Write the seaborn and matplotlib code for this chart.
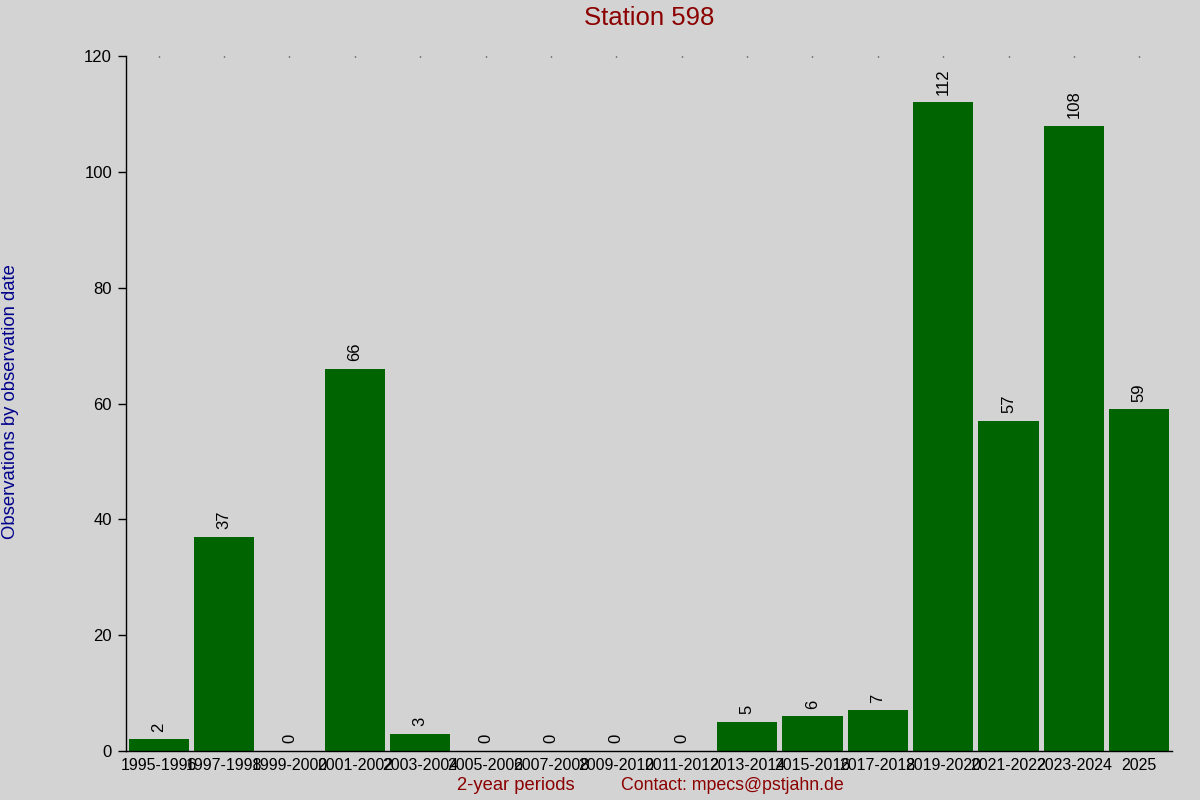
import matplotlib
matplotlib.use("Agg")
import matplotlib.pyplot as plt
import seaborn as sns
import pandas as pd

periods = ["1995-1996", "1997-1998", "1999-2000", "2001-2002", "2003-2004",
           "2005-2006", "2007-2008", "2009-2010", "2011-2012", "2013-2014",
           "2015-2016", "2017-2018", "2019-2020", "2021-2022", "2023-2024", "2025"]
counts = [2, 37, 0, 66, 3, 0, 0, 0, 0, 5, 6, 7, 112, 57, 108, 59]

title = "Station 598"
ylabel = "Observations by observation date"
xlabel = "2-year periods"
contact = "Contact: mpecs@pstjahn.de"

sns.set_theme(style="white")
plt.rcParams['font.family'] = ['Liberation Sans', 'DejaVu Sans']

bg = "#d3d3d3"
fig = plt.figure(figsize=(12, 8), dpi=100, facecolor=bg)
ax = fig.add_axes([126/1200, 49/800, (1172-126)/1200, (751-56)/800])
ax.set_facecolor(bg)

df = pd.DataFrame({"period": periods, "count": counts})
sns.barplot(data=df, x="period", y="count", color="#006400", saturation=1,
            width=0.92, ax=ax, edgecolor="none")

ax.set_xlim(-0.5, len(periods) - 0.5)
ax.set_ylim(0, 120)
ax.set_yticks(range(0, 121, 20))

for i, v in enumerate(counts):
    ax.annotate(str(v), (i, v), xytext=(0, 5.5), textcoords="offset points",
                rotation=90, ha="center", va="bottom", fontsize=12, color="black")

for s in ["top", "right"]:
    ax.spines[s].set_visible(False)
for s in ["left", "bottom"]:
    ax.spines[s].set_color("black")
    ax.spines[s].set_linewidth(1)

ax.tick_params(axis="y", left=True, length=6, width=1, color="black",
               labelsize=12, labelcolor="black", direction="out", pad=4)
ax.xaxis.set_tick_params(bottom=False, top=True, length=1, width=1,
                         direction="in", labelsize=11.5, labelcolor="black", pad=5)

ax.set_xlabel("")
ax.set_ylabel("")
fig.text(649/1200, 1 - 18/800, title, ha="center", va="center",
         fontsize=18.5, color="#8b0000")
fig.text(11/1200, 1 - 402/800, ylabel, rotation=90, ha="center", va="center",
         fontsize=13.3, color="#00008b")
fig.text(516/1200, 1 - 786/800, xlabel, ha="center", va="center",
         fontsize=13.2, color="#8b0000")
fig.text(732/1200, 1 - 786/800, contact, ha="center", va="center",
         fontsize=12.8, color="#8b0000")

fig.savefig("out.png", dpi=100, facecolor=bg)
